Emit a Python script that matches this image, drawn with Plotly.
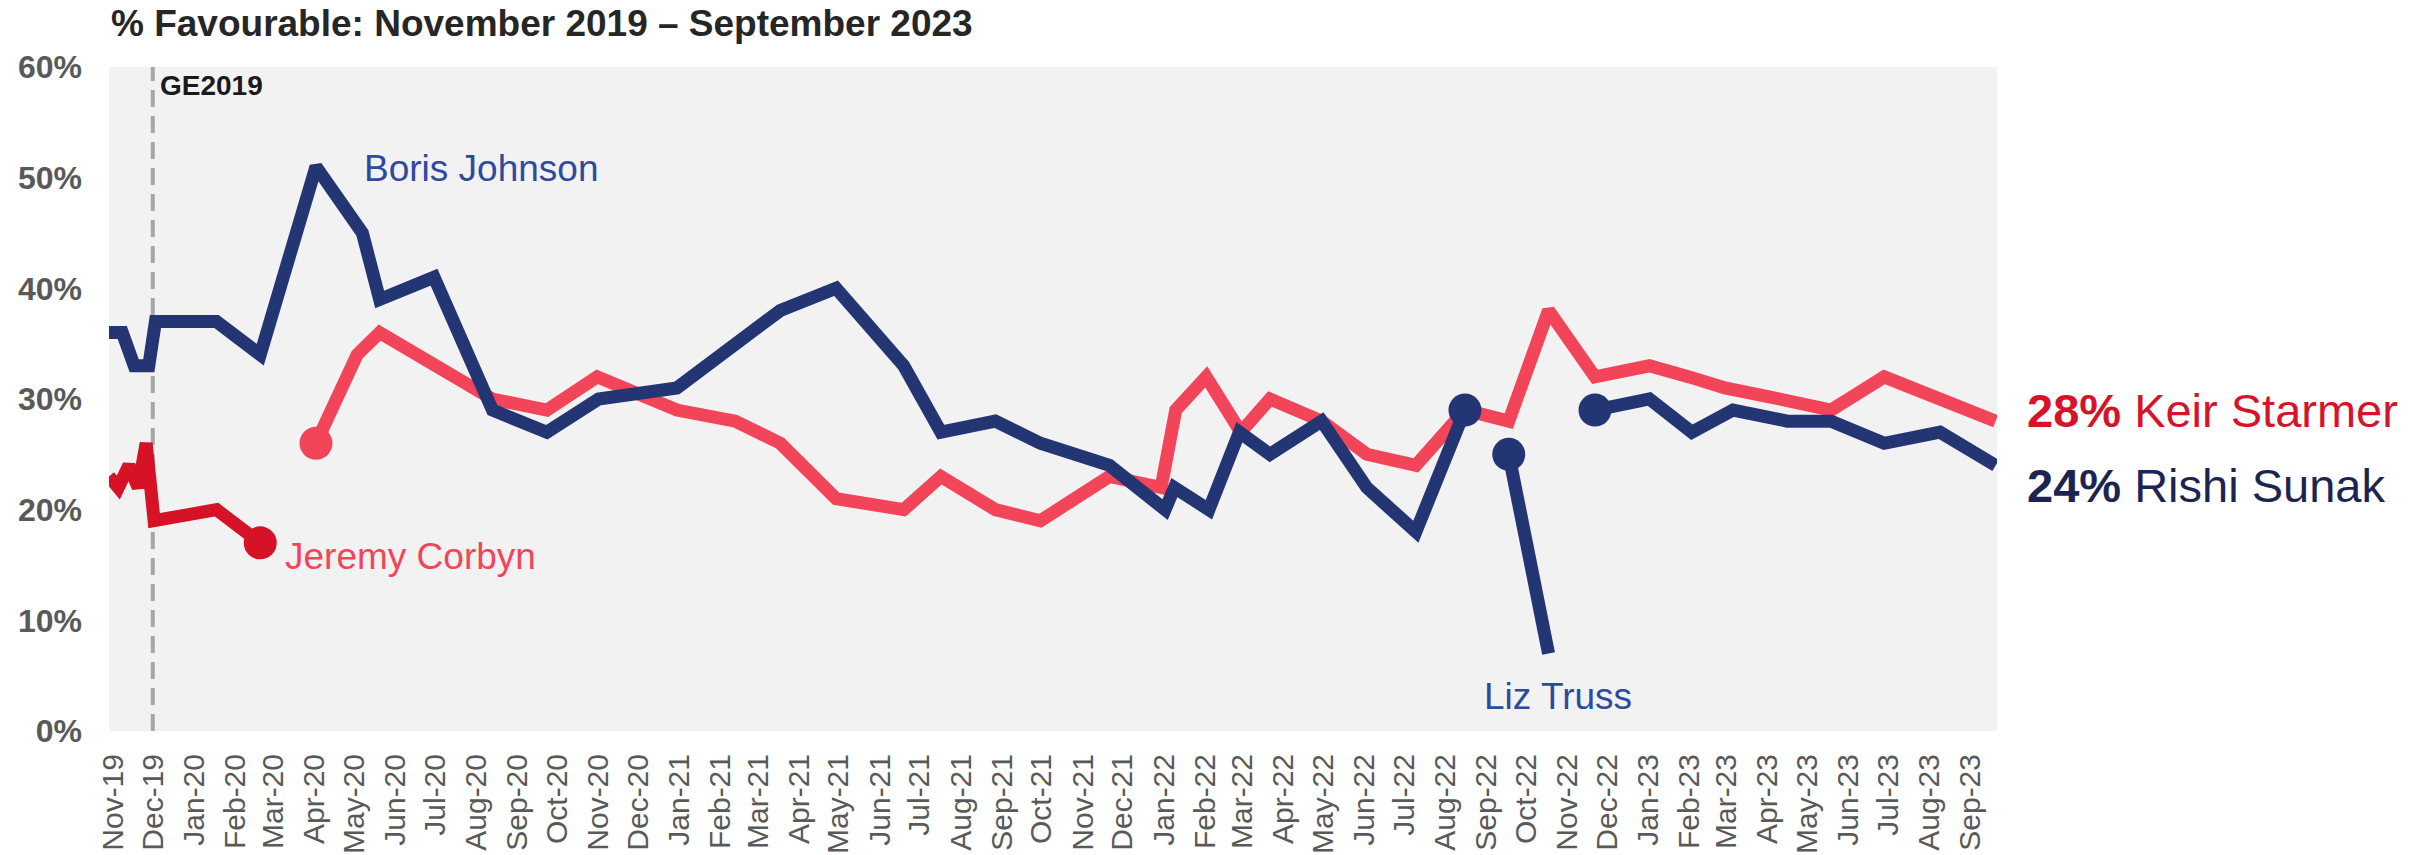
import plotly.graph_objects as go

# % favourable ratings, poll fieldwork dates (approx.)
johnson_dates = ["2019-11-09", "2019-11-19", "2019-11-28", "2019-12-09", "2019-12-14",
                 "2020-01-29", "2020-03-02", "2020-04-13", "2020-05-18", "2020-05-31",
                 "2020-07-11", "2020-08-24", "2020-10-04", "2020-11-12", "2021-01-10",
                 "2021-02-23", "2021-03-29", "2021-05-10", "2021-06-30", "2021-07-28",
                 "2021-09-07", "2021-10-11", "2021-12-02", "2022-01-13", "2022-01-20",
                 "2022-02-15", "2022-03-10", "2022-04-02", "2022-05-11", "2022-06-14",
                 "2022-07-21", "2022-08-27"]
johnson_fav = [36, 36, 33, 33, 37, 37, 34, 51, 45, 39, 41, 29, 27, 30, 31, 35, 38, 40,
               33, 27, 28, 26, 24, 20, 22, 20, 27, 25, 28, 22, 18, 29]

corbyn_dates = ["2019-11-09", "2019-11-16", "2019-11-24", "2019-12-01", "2019-12-07",
                "2019-12-13", "2020-01-29", "2020-03-02"]
corbyn_fav = [23, 22, 24, 22, 26, 19, 20, 17]

starmer_dates = ["2020-04-13", "2020-05-14", "2020-05-31", "2020-07-11", "2020-08-24",
                 "2020-10-04", "2020-11-11", "2021-01-10", "2021-02-23", "2021-03-29",
                 "2021-05-10", "2021-06-30", "2021-07-28", "2021-09-07", "2021-10-11",
                 "2021-12-02", "2022-01-10", "2022-01-21", "2022-02-13", "2022-03-11",
                 "2022-04-02", "2022-05-11", "2022-06-14", "2022-07-21", "2022-08-27",
                 "2022-09-29", "2022-10-29", "2022-12-03", "2023-01-13", "2023-02-12",
                 "2023-03-11", "2023-04-21", "2023-05-30", "2023-07-09", "2023-10-01"]
starmer_fav = [26, 34, 36, 33, 30, 29, 32, 29, 28, 26, 21, 20, 23, 20, 19, 23, 22, 29,
               32, 27, 30, 28, 25, 24, 29, 28, 38, 32, 33, 32, 31, 30, 29, 32, 28]

truss_dates = ["2022-09-29", "2022-10-29"]
truss_fav = [25, 7]

sunak_dates = ["2022-12-03", "2023-01-13", "2023-02-14", "2023-03-17", "2023-04-27",
               "2023-05-30", "2023-07-09", "2023-08-20", "2023-10-01"]
sunak_fav = [29, 30, 27, 29, 28, 28, 26, 27, 24]

ge_date = "2019-12-12"

NAVY = "#243574"
PINK = "#F2455A"
RED = "#D51226"
LABEL_BLUE = "#2E4AA0"
FONT = "Liberation Sans"

W, H = 2433, 855
L, R, T, B = 109, 436, 67, 124


def paper_y(py):
    return (H - B - py) / (H - B - T)


fig = go.Figure()


def add_line(dates, vals, color, dot):
    fig.add_trace(go.Scatter(x=dates, y=vals, mode="lines",
                             line=dict(color=color, width=13),
                             hoverinfo="skip", showlegend=False))
    if dot is not None:
        fig.add_trace(go.Scatter(x=[dates[dot]], y=[vals[dot]], mode="markers",
                                 marker=dict(color=color, size=33),
                                 hoverinfo="skip", showlegend=False))


# red lines underneath, navy on top
add_line(corbyn_dates, corbyn_fav, RED, -1)
add_line(starmer_dates, starmer_fav, PINK, 0)
add_line(johnson_dates, johnson_fav, NAVY, -1)
add_line(truss_dates, truss_fav, NAVY, 0)
add_line(sunak_dates, sunak_fav, NAVY, 0)

fig.add_shape(type="line", xref="x", yref="paper", x0=ge_date, x1=ge_date, y0=0, y1=1,
              line=dict(color="#A6A6A6", width=4, dash="17px,9px"), layer="below")

peak = johnson_fav.index(max(johnson_fav))
annos = [
    dict(text="<b>% Favourable: November 2019 \u2013 September 2023</b>",
         xref="paper", yref="paper", x=0, y=paper_y(23),
         xanchor="left", yanchor="middle", font=dict(size=37, color="#262626")),
    dict(text="<b>GE2019</b>", xref="x", yref="paper", x=ge_date, y=paper_y(85),
         xanchor="left", yanchor="middle", xshift=5, font=dict(size=28, color="#1A1A1A")),
    dict(text="Boris Johnson", xref="x", yref="y", x=johnson_dates[peak], y=johnson_fav[peak],
         xanchor="left", yanchor="middle", xshift=46, yshift=-2,
         font=dict(size=37, color=LABEL_BLUE)),
    dict(text="Jeremy Corbyn", xref="x", yref="y", x=corbyn_dates[-1], y=corbyn_fav[-1],
         xanchor="left", yanchor="middle", xshift=23, yshift=-14,
         font=dict(size=37, color=PINK)),
    dict(text="Liz Truss", xref="x", yref="y", x=truss_dates[-1], y=truss_fav[-1],
         xanchor="center", yanchor="middle", xshift=9, yshift=-43,
         font=dict(size=37, color=LABEL_BLUE)),
    dict(text="<b>%d%%</b> Keir Starmer" % starmer_fav[-1], xref="paper", yref="y",
         x=1, y=starmer_fav[-1], xanchor="left", yanchor="middle", xshift=28, yshift=11,
         font=dict(size=47, color="#D7132A")),
    dict(text="<b>%d%%</b> Rishi Sunak" % sunak_fav[-1], xref="paper", yref="y",
         x=1, y=sunak_fav[-1], xanchor="left", yanchor="middle", xshift=28, yshift=-20,
         font=dict(size=47, color="#1C2552")),
]
for a in annos:
    fig.add_annotation(showarrow=False, **a)

fig.update_layout(
    width=W, height=H,
    margin=dict(l=L, r=R, t=T, b=B),
    paper_bgcolor="white",
    plot_bgcolor="#F2F2F2",
    font=dict(family=FONT),
    showlegend=False,
    xaxis=dict(type="date", range=["2019-11-09", "2023-10-02"],
               tick0="2019-11-12", dtick="M1", tickformat="%b-%y", tickangle=-90,
               tickfont=dict(family=FONT, size=30, color="#595959"),
               showgrid=False, zeroline=False, showline=False, ticks="", ticklen=0,
               ticklabelstandoff=16, automargin=False),
    yaxis=dict(range=[0, 60], dtick=10, ticksuffix="%",
               tickfont=dict(family=FONT, size=32, color="#595959", weight="bold"),
               showgrid=False, zeroline=False, showline=False, ticks="", ticklen=0,
               ticklabelstandoff=26, automargin=False),
)

# drop the default page margin so the figure fills the window exactly
fig.write_html("out.html", config={"displayModeBar": False},
               post_script="document.body.style.margin='0';document.body.style.overflow='hidden';")
